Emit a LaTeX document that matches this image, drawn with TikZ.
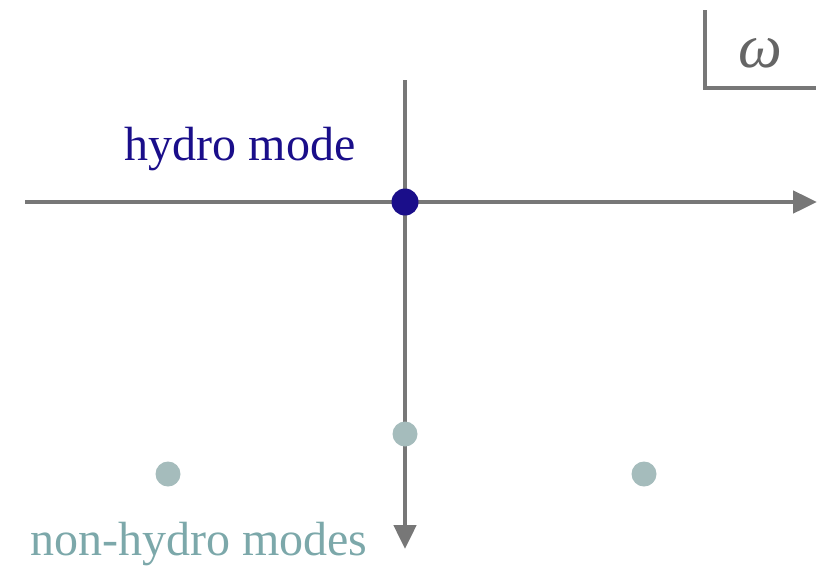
\documentclass[tikz,border=0pt]{standalone}
\usepackage{fontspec}
\setmainfont{Liberation Serif}
\usetikzlibrary{arrows.meta}
\definecolor{axisgray}{HTML}{777777}
\definecolor{hydroblue}{HTML}{1A0E8A}
\definecolor{modegray}{HTML}{A5BCBC}
\definecolor{textteal}{HTML}{7CA8AA}
\tikzset{
  axis/.style={draw=axisgray, line width=4.8pt, -{Triangle[length=24pt,width=22pt]}},
  frame/.style={draw=axisgray, line width=4pt},
  hydrodot/.style={circle, fill=hydroblue, inner sep=0pt, minimum size=27pt},
  modedot/.style={circle, fill=modegray, inner sep=0pt, minimum size=25pt},
  lbl/.style={inner sep=0pt, font=\fontsize{48}{52}\selectfont}
}
\begin{document}
\begin{tikzpicture}[x=1pt,y=-1pt]
\useasboundingbox (0,0) rectangle (831,566);
\coordinate (hl) at (25,202);
\coordinate (hr) at (817,202);
\coordinate (vt) at (405,80);
\coordinate (vb) at (405,549);
\draw[axis] (hl) -- (hr);
\draw[axis] (vt) -- (vb);
\node[hydrodot] (h) at (405,202) {};
\node[modedot] (m1) at (405,434) {};
\node[modedot] (m2) at (168,474) {};
\node[modedot] (m3) at (644,474) {};
\node[lbl, text=hydroblue, anchor=base] (hlab) at (240,160) {hydro mode};
\node[lbl, text=textteal, anchor=base] (nl) at (199,555) {non-hydro modes};
\coordinate (ft) at (705,10);
\coordinate (fc) at (705,88);
\coordinate (fr) at (816,88);
\draw[frame] (ft) -- (fc) -- (fr);
\node[inner sep=0pt, text=axisgray!85!black, anchor=base, font=\fontsize{62}{62}\selectfont\itshape] (w) at (760,67) {ω};
\end{tikzpicture}
\end{document}
